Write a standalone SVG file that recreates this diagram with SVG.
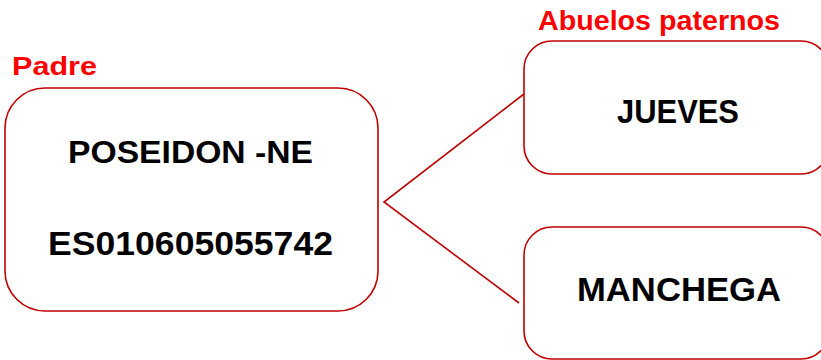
<svg xmlns="http://www.w3.org/2000/svg" width="821" height="360" viewBox="0 0 821 360">
<style>
.box{fill:#ffffff;stroke:#c00000;stroke-width:1.6}
.lbl{font-family:"Liberation Sans",Arial,sans-serif;font-weight:bold;fill:#000000;text-anchor:middle}
.head{font-family:"Liberation Sans",Arial,sans-serif;font-weight:bold;fill:#ff0000}
.conn{fill:none;stroke:#c00000;stroke-width:1.6}
</style>
<rect width="821" height="360" fill="#ffffff"/>
<text class="head" x="12" y="75" font-size="26" textLength="85" lengthAdjust="spacingAndGlyphs">Padre</text>
<text class="head" x="538" y="30" font-size="28" textLength="242" lengthAdjust="spacingAndGlyphs">Abuelos paternos</text>
<g id="connectors">
<polyline class="conn" points="524,94 384,202 519,303"/>
</g>
<g id="padre">
<rect class="box" x="5" y="88" width="373" height="223" rx="40" ry="40"/>
<text class="lbl" x="190.5" y="163" font-size="32" textLength="245" lengthAdjust="spacingAndGlyphs">POSEIDON -NE</text>
<text class="lbl" x="190.5" y="255" font-size="33" textLength="285" lengthAdjust="spacingAndGlyphs">ES010605055742</text>
</g>
<g id="jueves">
<rect class="box" x="524" y="41" width="305" height="133" rx="28" ry="28"/>
<text class="lbl" x="678" y="123" font-size="34" textLength="122" lengthAdjust="spacingAndGlyphs">JUEVES</text>
</g>
<g id="manchega">
<rect class="box" x="524" y="227" width="305" height="132" rx="28" ry="28"/>
<text class="lbl" x="679" y="301" font-size="34" textLength="204" lengthAdjust="spacingAndGlyphs">MANCHEGA</text>
</g>
</svg>
